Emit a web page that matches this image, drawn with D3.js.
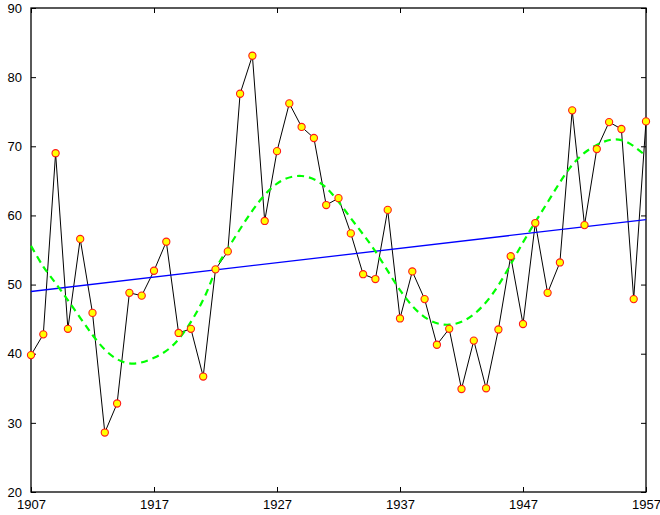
<!DOCTYPE html>
<html>
<head>
<meta charset="utf-8">
<script src="https://cdn.jsdelivr.net/npm/d3@7"></script>
<style>
  html, body { margin: 0; padding: 0; background: #fff; }
  svg { display: block; }
  .tick text { font-family: "Liberation Sans", Arial, Helvetica, sans-serif; font-size: 13px; fill: #000; }
</style>
</head>
<body>
<svg id="chart" width="660" height="515"></svg>
<script>
// Yearly observations, 1907–1957
const years = d3.range(1907, 1958);
const values = [
  39.8, 42.8, 69.0, 43.6, 56.6, 45.9, 28.6, 32.8, 48.8, 48.4,
  52.0, 56.2, 43.0, 43.6, 36.7, 52.2, 54.8, 77.6, 83.1, 59.2,
  69.3, 76.2, 72.8, 71.2, 61.5, 62.5, 57.4, 51.5, 50.8, 60.8,
  45.1, 51.9, 47.9, 41.3, 43.6, 34.9, 41.9, 35.0, 43.5, 54.1,
  44.3, 58.9, 48.8, 53.2, 75.2, 58.6, 69.6, 73.5, 72.5, 47.9,
  73.6
];

// Linear trend end points
const trendYears = [1907, 1957];
const trendValues = [49.0, 59.4];

// Smoothed cyclic fit, sampled at knot years
const fitYears = [1907, 1908, 1909, 1911, 1913, 1915, 1917, 1919, 1921, 1922, 1923, 1925, 1927,
                  1929, 1931, 1933, 1935, 1937, 1939, 1941, 1943, 1945, 1947, 1949,
                  1951, 1953, 1955, 1957];
const fitValues = [55.6, 52.6, 50.2, 45.2, 40.6, 38.6, 39.4, 42.1, 47.8, 52.1, 55.2, 60.7, 64.6,
                   65.7, 64.0, 59.6, 54.8, 49.2, 45.3, 44.2, 45.7, 49.9, 56.1, 61.9,
                   67.3, 70.2, 70.9, 68.6];

// Axis ticks
const xTicks = [1907, 1917, 1927, 1937, 1947, 1957];
const yTicks = [20, 30, 40, 50, 60, 70, 80, 90];

const W = 660, H = 515;
const margin = { top: 8, right: 14, bottom: 23, left: 31 };
const svg = d3.select("#chart");

const x = d3.scaleLinear().domain([1907, 1957]).range([margin.left, W - margin.right]);
const y = d3.scaleLinear().domain([20, 90]).range([H - margin.bottom, margin.top]);

// Axes with inward ticks on all four sides
const tickLen = 5;
svg.append("g")
  .attr("transform", `translate(0,${H - margin.bottom})`)
  .call(d3.axisBottom(x).tickValues(xTicks).tickFormat(d3.format("d")).tickSize(-tickLen).tickPadding(8))
  .call(g => g.select(".domain").remove());
svg.append("g")
  .attr("transform", `translate(0,${margin.top})`)
  .call(d3.axisTop(x).tickValues(xTicks).tickFormat("").tickSize(-tickLen))
  .call(g => g.select(".domain").remove());
svg.append("g")
  .attr("transform", `translate(${margin.left},0)`)
  .call(d3.axisLeft(y).tickValues(yTicks).tickSize(-tickLen).tickPadding(9))
  .call(g => g.select(".domain").remove());
svg.append("g")
  .attr("transform", `translate(${W - margin.right},0)`)
  .call(d3.axisRight(y).tickValues(yTicks).tickFormat("").tickSize(-tickLen))
  .call(g => g.select(".domain").remove());
svg.selectAll(".tick line").attr("stroke", "#000").attr("stroke-width", 1);

// Frame
svg.append("rect")
  .attr("x", margin.left).attr("y", margin.top)
  .attr("width", W - margin.left - margin.right)
  .attr("height", H - margin.top - margin.bottom)
  .attr("fill", "none").attr("stroke", "#000").attr("stroke-width", 1.3);

const series = years.map((yr, i) => ({ year: yr, value: values[i] }));

// Data line
svg.append("path")
  .datum(series)
  .attr("fill", "none").attr("stroke", "#000").attr("stroke-width", 1)
  .attr("d", d3.line().x(d => x(d.year)).y(d => y(d.value)));

// Linear trend
svg.append("path")
  .datum(trendYears.map((yr, i) => ({ year: yr, value: trendValues[i] })))
  .attr("fill", "none").attr("stroke", "#0000ff").attr("stroke-width", 1.3)
  .attr("d", d3.line().x(d => x(d.year)).y(d => y(d.value)));

// Cyclic fit (dashed)
svg.append("path")
  .datum(fitYears.map((yr, i) => ({ year: yr, value: fitValues[i] })))
  .attr("fill", "none").attr("stroke", "#00ff00").attr("stroke-width", 2.2)
  .attr("stroke-dasharray", "7,5")
  .attr("d", d3.line().curve(d3.curveNatural).x(d => x(d.year)).y(d => y(d.value)));

// Markers
svg.append("g").selectAll("circle")
  .data(series)
  .join("circle")
  .attr("cx", d => x(d.year)).attr("cy", d => y(d.value))
  .attr("r", 3.6)
  .attr("fill", "#ffff00").attr("stroke", "#ff1a1a").attr("stroke-width", 1.1);
</script>
</body>
</html>
